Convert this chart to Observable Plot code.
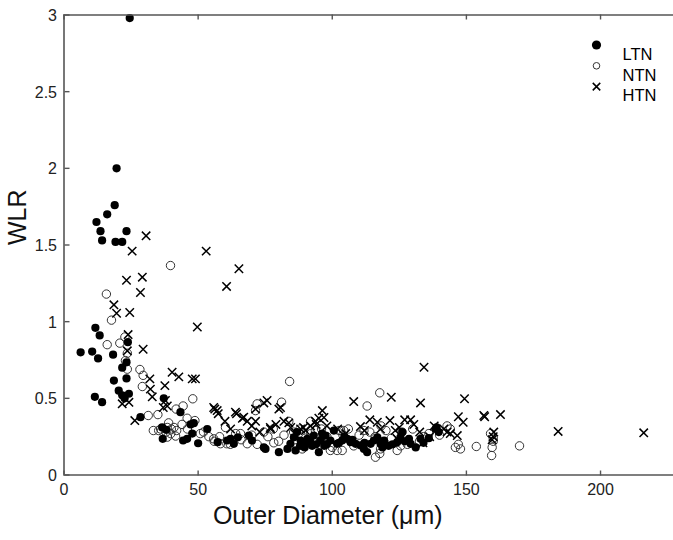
<!DOCTYPE html>
<html>
<head>
<meta charset="utf-8">
<script src="https://cdn.jsdelivr.net/npm/d3@7"></script>
<script src="https://cdn.jsdelivr.net/npm/@observablehq/plot@0.6"></script>
<style>
  html, body { margin: 0; padding: 0; background: #fff; }
  #chart svg { display: block; }
</style>
</head>
<body>
<div id="chart"></div>
<script>
// ---- data: [outer diameter (µm), WLR] ----
const ltn = [
  [24.5,2.98],[19.6,2.0],[18.9,1.76],[16.1,1.70],[12.1,1.65],[13.6,1.59],[14.2,1.53],[19.2,1.52],[21.7,1.52],[23.3,1.59],
  [6.2,0.80],[10.5,0.805],[11.7,0.96],[13.3,0.91],[12.7,0.76],[18.3,0.785],[23.8,0.866],[23.3,0.735],[21.7,0.70],[23.3,0.63],
  [18.6,0.616],[20.4,0.55],[21.7,0.52],[24.2,0.53],[22.6,0.50],[11.5,0.51],[14.2,0.475],[28.5,0.377],
  [37.2,0.50],[36.6,0.31],[38.1,0.295],[36.8,0.236],[43.4,0.41],[44.4,0.225],[45.9,0.236],[47.2,0.33],[48.4,0.338],[47.8,0.27],
  [50.0,0.207],[53.4,0.30],[57.3,0.214],[60.8,0.225],[62.1,0.236],[63.3,0.203],[64.8,0.246],[68.9,0.257],[70.1,0.225],[74.5,0.18],
  [75.1,0.17],[80.1,0.149],[83.3,0.17],[84.4,0.203],[85.7,0.246],[86.9,0.28],[86.3,0.16],[88.2,0.225],[89.7,0.18],[90.7,0.236],
  [91.7,0.225],[92.5,0.19],[93.1,0.257],[95.0,0.149],[95.6,0.225],[96.2,0.27],[97.5,0.257],[99.3,0.225],[100.6,0.29],[101.8,0.203],
  [102.5,0.21],[103.7,0.225],[105.6,0.236],[106.8,0.214],[108.7,0.203],[110.6,0.193],[111.8,0.17],[113.0,0.149],[114.3,0.203],[115.5,0.225],
  [116.8,0.246],[118.0,0.203],[118.7,0.18],[119.3,0.225],[124.2,0.214],[125.4,0.246],[126.1,0.28],[128.6,0.236],[129.2,0.203],[131.1,0.18],
  [132.9,0.236],[138.5,0.30],[139.7,0.28],[138.9,0.31],
  [104.5,0.25],[107.5,0.23],[112,0.21],[121,0.19],[122.5,0.2],[127,0.22],[134,0.21],[136,0.24],[88,0.19],[90,0.2],[94,0.2],[97,0.19],[98,0.2]
];
const ntn = [
  [39.7,1.366],[15.8,1.18],[17.7,1.01],[16.1,0.85],[20.8,0.86],[22.7,0.90],[23.6,0.794],[22.9,0.746],[23.6,0.69],[28.3,0.688],
  [29.5,0.65],[29.2,0.577],[31.4,0.388],[35.0,0.394],[33.3,0.29],[35.3,0.29],[38.5,0.31],[39.8,0.27],[41.0,0.31],[41.6,0.254],
  [38.5,0.247],[41.8,0.43],[44.4,0.45],[48.0,0.497],[45.9,0.37],[48.8,0.355],[50.8,0.27],[55.8,0.236],[58.3,0.204],[60.7,0.204],
  [60.2,0.31],[65.8,0.27],[68.3,0.204],[72.0,0.464],[71.4,0.42],[74.5,0.28],[78.2,0.21],[81.1,0.475],[84.1,0.61],[83.8,0.35],
  [85.6,0.28],[88.8,0.17],[91.9,0.35],[93.7,0.29],[95.6,0.225],[99.3,0.16],[102.5,0.29],[101.8,0.16],[117.7,0.536],[113.0,0.45],
  [103.1,0.29],[104.3,0.29],[103.7,0.16],[116.1,0.116],[117.7,0.14],[124.2,0.16],[125.5,0.19],[145.9,0.18],[147.8,0.17],[153.7,0.186],
  [159.6,0.18],[159.4,0.127],[159.0,0.27],[169.8,0.19],[142.8,0.32],[132.5,0.22],[111.8,0.29],[118.2,0.32],
  [36,0.3],[38,0.28],[40,0.3],[42,0.29],[44,0.33],[46,0.3],[39,0.34],[52,0.28],[54,0.25],[56,0.22],[58,0.25],[62,0.2],[64,0.27],
  [66,0.23],[70,0.26],[72,0.2],[76,0.25],[78,0.3],[80,0.22],[82,0.26],[86,0.23],[88,0.3],[90,0.24],[92,0.27],[96,0.3],[98,0.25],
  [100,0.18],[104,0.26],[106,0.3],[108,0.19],[110,0.26],[114,0.28],[116,0.25],[118,0.17],[120,0.29],[122,0.24],[126,0.28],[128,0.2],
  [130,0.3],[134,0.25],[136,0.27],[140,0.26],[144,0.3],[147,0.2],[160,0.22],[160,0.24]
];
const htn = [
  [25.4,1.46],[30.6,1.56],[53.0,1.46],[65.2,1.345],[23.3,1.27],[29.2,1.29],[28.5,1.19],[60.6,1.23],[18.6,1.11],[19.6,1.055],
  [24.5,1.06],[49.7,0.965],[23.9,0.916],[23.6,0.81],[29.5,0.82],[32.0,0.627],[40.3,0.67],[42.8,0.64],[47.8,0.627],[49.0,0.627],
  [37.6,0.583],[32.2,0.56],[32.9,0.51],[37.8,0.486],[37.0,0.44],[38.5,0.45],[21.7,0.464],[24.2,0.474],[26.4,0.355],[56.2,0.43],
  [57.1,0.42],[57.5,0.40],[64.3,0.40],[66.5,0.37],[68.3,0.35],[71.4,0.35],[75.7,0.486],[74.5,0.47],[80.7,0.44],[76.9,0.31],
  [82.0,0.35],[84.5,0.31],[88.2,0.30],[91.9,0.32],[93.7,0.35],[96.3,0.42],[96.9,0.375],[55.8,0.44],[63.9,0.41],[67.0,0.377],
  [71.4,0.43],[80.1,0.43],[77.0,0.30],[83.8,0.34],[89.3,0.31],[95.0,0.37],[62.1,0.30],[134.2,0.703],[108.0,0.479],[122.0,0.507],
  [132.9,0.47],[149.3,0.497],[147.0,0.38],[148.8,0.344],[156.5,0.388],[156.8,0.38],[162.7,0.394],[160.2,0.28],[159.6,0.23],[146.6,0.257],
  [110.5,0.316],[116.8,0.344],[121.5,0.355],[123.5,0.29],[129.2,0.36],[130.4,0.33],[124.2,0.236],[132.6,0.28],[133.8,0.21],[136.3,0.25],
  [141.6,0.30],[142.8,0.28],[184.2,0.284],[216.1,0.275],
  [60,0.35],[70,0.32],[73,0.28],[79,0.33],[86,0.27],[90,0.29],[94,0.33],[98,0.32],[102,0.3],[105,0.27],[112,0.29],[114,0.36],
  [118,0.3],[125,0.31],[127,0.36],[138,0.32],[144,0.27],[160,0.25]
];
const xTicks = [0, 50, 100, 150, 200];
const yTicks = [0, 0.5, 1, 1.5, 2, 2.5, 3];
const seriesNames = ["LTN", "NTN", "HTN"];
const xLabel = "Outer Diameter (\u03BCm)";
const yLabel = "WLR";

const axisColor = "#555";
const font = "Liberation Sans, Arial, Helvetica, sans-serif";
const noText = () => "";

const legendMarks = [];
const legendStyles = [
  {symbol: "circle", fill: "black", stroke: "none", r: 4.6},
  {symbol: "circle", fill: "none", stroke: "#333", r: 3.3, strokeWidth: 1},
  {symbol: "times", fill: "none", stroke: "black", r: 3.5, strokeWidth: 1.5}
];
seriesNames.forEach((name, i) => {
  legendMarks.push(Plot.dot([name], {frameAnchor: "top-right", dx: -77, dy: 30 + i * 20.8, ...legendStyles[i]}));
  legendMarks.push(Plot.text([name], {frameAnchor: "top-right", dx: -51, dy: 33.5 + i * 20.6, text: d => d,
    textAnchor: "start", fontSize: 16.5, fill: "black"}));
});

const chart = Plot.plot({
  width: 673,
  height: 540,
  marginLeft: 63.5,
  marginRight: 0,
  marginTop: 14.5,
  marginBottom: 65.5,
  style: {fontFamily: font, background: "white", color: "black"},
  x: {domain: [0, 227.2], ticks: xTicks},
  y: {domain: [0, 3], ticks: yTicks},
  marks: [
    Plot.dot(ntn, {x: d => d[0], y: d => d[1], r: 4.2, fill: "none", stroke: "#333", strokeWidth: 1}),
    Plot.dot(ltn, {x: d => d[0], y: d => d[1], r: 4.1, fill: "black"}),
    Plot.dot(htn, {x: d => d[0], y: d => d[1], symbol: "times", r: 3.9, stroke: "black", strokeWidth: 1.5}),
    // frame lines
    Plot.ruleY([0], {stroke: axisColor, strokeWidth: 1.6}),
    Plot.ruleY([3], {stroke: axisColor, strokeWidth: 1.6}),
    Plot.ruleX([0], {stroke: axisColor, strokeWidth: 1.6}),
    // inward ticks
    Plot.axisX(xTicks, {anchor: "top", frameAnchor: "bottom", tickSize: 5, tickFormat: noText, label: null, stroke: axisColor, strokeWidth: 1.4}),
    Plot.axisX(xTicks, {anchor: "bottom", frameAnchor: "top", tickSize: 5, tickFormat: noText, label: null, stroke: axisColor, strokeWidth: 1.4}),
    Plot.axisY(yTicks, {anchor: "right", frameAnchor: "left", tickSize: 5, tickFormat: noText, label: null, stroke: axisColor, strokeWidth: 1.4}),
    // tick labels
    Plot.axisX(xTicks, {anchor: "bottom", tickSize: 0, tickPadding: 9, label: null, fontSize: 16, fill: "#222", tickFormat: d => String(d)}),
    Plot.axisY(yTicks, {anchor: "left", tickSize: 0, tickPadding: 7, label: null, fontSize: 16, fill: "#222", dy: 1, tickFormat: d => String(d)}),
    // axis titles
    Plot.text([xLabel], {frameAnchor: "bottom", dx: -41, dy: 49, text: d => d, fontSize: 25, fill: "#111"}),
    Plot.text([yLabel], {frameAnchor: "left", dx: -46, dy: 0, rotate: -90, text: d => d, fontSize: 25, fill: "#111"}),
    ...legendMarks
  ]
});
document.getElementById("chart").appendChild(chart);
</script>
</body>
</html>
